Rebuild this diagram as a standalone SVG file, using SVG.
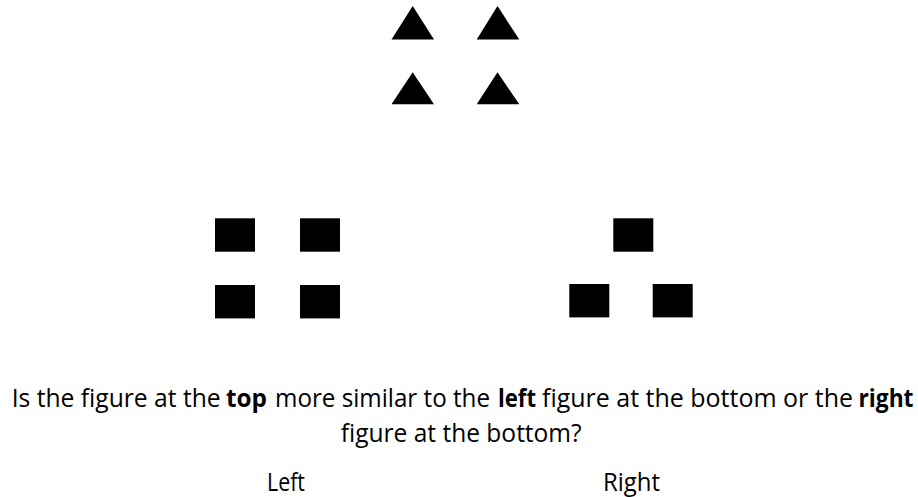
<svg xmlns="http://www.w3.org/2000/svg" width="918" height="497" viewBox="0 0 918 497">
<style>
.s{fill:#000}
.t{font-family:"Open Sans",Lato,"Liberation Sans",sans-serif;font-size:25px;fill:#000;font-variant-ligatures:none}
.b{font-weight:bold}
</style>
<rect width="918" height="497" fill="#fff"/>
<g id="top-figure">
<polygon class="s" points="412.7,6 434,39.5 391.5,39.5"/>
<polygon class="s" points="497.5,6 519.3,39.5 476.7,39.5"/>
<polygon class="s" points="412.7,72.3 434,104.3 391.5,104.3"/>
<polygon class="s" points="497.5,72.3 519.3,104.3 476.7,104.3"/>
</g>
<g id="left-figure">
<rect class="s" x="215" y="218.3" width="40" height="33.4"/>
<rect class="s" x="300" y="218.3" width="40" height="33.4"/>
<rect class="s" x="215" y="285" width="40" height="33.4"/>
<rect class="s" x="300" y="285" width="40" height="33.4"/>
</g>
<g id="right-figure">
<rect class="s" x="613.3" y="218.3" width="40" height="33.4"/>
<rect class="s" x="569.3" y="284" width="40" height="33.4"/>
<rect class="s" x="652.7" y="284" width="40" height="33.4"/>
</g>
<g id="question">
<text class="t" x="11.7" y="406.5" textLength="209" lengthAdjust="spacingAndGlyphs">Is the figure at the</text>
<text class="t b" x="226" y="406.5" textLength="41" lengthAdjust="spacingAndGlyphs">top</text>
<text class="t" x="275" y="406.5" textLength="215" lengthAdjust="spacingAndGlyphs">more similar to the</text>
<text class="t b" x="498" y="406.5" textLength="38" lengthAdjust="spacingAndGlyphs">left</text>
<text class="t" x="542" y="406.5" textLength="311" lengthAdjust="spacingAndGlyphs">figure at the bottom or the</text>
<text class="t b" x="858.5" y="406.5" textLength="55" lengthAdjust="spacingAndGlyphs">right</text>
<text class="t" x="340.7" y="441.5" textLength="241" lengthAdjust="spacingAndGlyphs">figure at the bottom?</text>
</g>
<g id="answers">
<text class="t" x="267" y="491" textLength="38" lengthAdjust="spacingAndGlyphs">Left</text>
<text class="t" x="603" y="491" textLength="57" lengthAdjust="spacingAndGlyphs">Right</text>
</g>
</svg>
